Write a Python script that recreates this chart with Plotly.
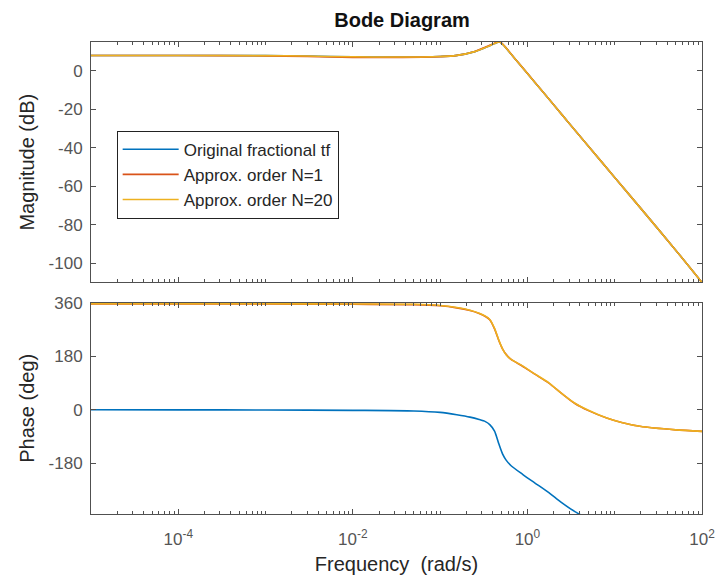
import plotly.graph_objects as go
from plotly.subplots import make_subplots

# ---------------- data ----------------
freq_mag = [1e-5, 1e-4, 1e-3, 3e-3, 1e-2, 3e-2, 0.1, 0.15, 0.25, 0.35, 0.42, 0.48, 0.55,
            0.7, 1.0, 1.5, 2.1, 3.0, 5.0, 10, 20, 50, 100]
mag_orig = [8.0, 8.0, 7.9, 7.7, 7.3, 7.2, 7.5, 7.9, 10.0, 12.6, 14.2, 15.0, 12.6,
            6.9, -1.4, -10.9, -18.8, -27.2, -39.2, -55.4, -71.6, -93.2, -110.0]
mag_n1 = [8.0, 8.0, 7.8, 7.5, 7.0, 7.0, 7.4, 7.9, 10.1, 12.8, 14.4, 15.2, 12.8,
          7.0, -1.3, -10.9, -18.8, -27.2, -39.2, -55.4, -71.6, -93.2, -110.0]
mag_n20 = [8.0, 8.0, 7.9, 7.7, 7.3, 7.2, 7.5, 7.9, 10.0, 12.6, 14.2, 15.0, 12.6,
           6.9, -1.4, -10.9, -18.8, -27.2, -39.2, -55.4, -71.6, -93.2, -110.0]

freq_ph = [1e-5, 1e-4, 1e-3, 1e-2, 0.05, 0.1, 0.155, 0.22, 0.28, 0.33, 0.37, 0.42,
           0.47, 0.52, 0.57, 0.65, 0.88, 1.2, 1.76, 2.4, 3.5, 5.0, 8.1, 12,
           19.4, 50, 100]
ph_orig = [0, -0.3, -0.8, -2, -4, -9, -17, -25, -33, -40, -50, -72,
           -115, -150, -170, -189, -218, -246, -280, -311, -344, -368, -394, -410,
           -422, -430, -433]
ph_n1 = [357.5, 357.5, 357, 356, 355, 351, 344, 335, 325, 315, 304, 273,
         234, 205, 187, 170, 147, 121, 90, 58, 21, -3, -28, -43,
         -56, -68, -73]
ph_n20 = [358, 358, 358, 357, 356, 352, 345, 336, 326, 316, 305, 275,
          235, 205, 186, 170, 148, 122, 91, 58, 22, -2, -28, -43,
          -56, -68, -73]

series_names = ["Original fractional tf", "Approx. order N=1", "Approx. order N=20"]
series_colors = ["#0072BD", "#D95319", "#EDB120"]

mag_ticks = [0, -20, -40, -60, -80, -100]
mag_ticktext = ["0", "-20", "-40", "-60", "-80", "-100"]
ph_ticks = [-180, 0, 180, 360]
ph_ticktext = ["-180", "0", "180", "360"]
x_ticks = [1e-4, 1e-2, 1e0, 1e2]
x_ticktext = ["10<sup>-4</sup>", "10<sup>-2</sup>", "10<sup>0</sup>", "10<sup>2</sup>"]

# ---------------- figure ----------------
fig = make_subplots(rows=2, cols=1, shared_xaxes=False)

mags = [mag_orig, mag_n1, mag_n20]
phs = [ph_orig, ph_n1, ph_n20]
for name, col, m in zip(series_names, series_colors, mags):
    fig.add_trace(go.Scatter(x=freq_mag, y=m, mode="lines", name=name,
                             line=dict(color=col, width=1.6, shape="spline", smoothing=0.7)),
                  row=1, col=1)
for name, col, p in zip(series_names, series_colors, phs):
    fig.add_trace(go.Scatter(x=freq_ph, y=p, mode="lines", name=name, showlegend=False,
                             line=dict(color=col, width=1.6, shape="spline", smoothing=0.7)),
                  row=2, col=1)

minor_vals = [m * 10 ** k for k in range(-5, 2) for m in range(2, 10)] + \
             [10 ** k for k in range(-5, 3) if k % 2 != 0]

FONT = "Liberation Sans, Arial, sans-serif"
axis_col = "#505050"
tick_font = dict(family=FONT, size=17, color="#555555")
title_font = dict(family=FONT, size=20, color="#262626")

common_x = dict(type="log", range=[-5, 2], showgrid=False, zeroline=False,
                showline=True, linecolor=axis_col, linewidth=1, mirror="ticks",
                ticks="inside", ticklen=5, tickcolor=axis_col,
                tickvals=x_ticks, ticktext=x_ticktext,
                minor=dict(ticks="inside", ticklen=3, tickcolor=axis_col, tickvals=minor_vals, showgrid=False),
                tickfont=tick_font, ticklabelstandoff=10)
fig.update_xaxes(**common_x)
fig.update_xaxes(showticklabels=False, row=1, col=1)
fig.update_xaxes(title=dict(text="Frequency  (rad/s)", font=title_font, standoff=8), row=2, col=1)

common_y = dict(showgrid=False, zeroline=False, showline=True, linecolor=axis_col, linewidth=1,
                mirror="ticks", ticks="inside", ticklen=5, tickcolor=axis_col, tickfont=tick_font,
                ticklabelstandoff=4)
fig.update_yaxes(**common_y)
fig.update_yaxes(range=[-110, 15], tickvals=mag_ticks, ticktext=mag_ticktext,
                 title=dict(text="Magnitude (dB)", font=title_font, standoff=8), row=1, col=1)
fig.update_yaxes(range=[-352, 362], tickvals=ph_ticks, ticktext=ph_ticktext,
                 title=dict(text="Phase (deg)", font=title_font, standoff=8), row=2, col=1)

fig.update_layout(
    width=727, height=583,
    margin=dict(l=91, r=16, t=42, b=68),
    paper_bgcolor="white", plot_bgcolor="white",
    xaxis=dict(domain=[0, 1]), xaxis2=dict(domain=[0, 1]),
    yaxis=dict(domain=[0.4905, 1.0]), yaxis2=dict(domain=[0.0, 0.448]),
    title=dict(text="<b>Bode Diagram</b>", x=0.553, xanchor="center", y=0.965, yanchor="middle",
               font=dict(family=FONT, size=20, color="#111111")),
    legend=dict(x=0.042, y=0.812, xanchor="left", yanchor="top",
                bgcolor="white", bordercolor="#222222", borderwidth=1,
                font=dict(family=FONT, size=17, color="#262626"),
                itemwidth=56, tracegroupgap=0),
    showlegend=True,
)

fig.write_html("out.html")
